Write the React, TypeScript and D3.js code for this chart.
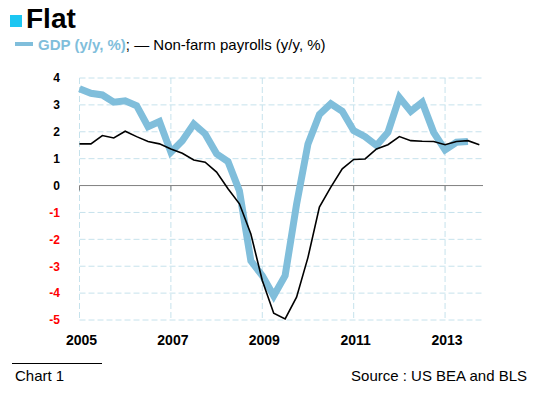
import React, { useRef, useEffect } from 'react';
import * as d3 from 'd3';

// quarterly series, first point = 2005 Q1
const startYear = 2005;
const gdp = [3.6, 3.43, 3.37, 3.1, 3.15, 2.97, 2.19, 2.38, 1.24, 1.67, 2.29, 1.92, 1.18, 0.89, -0.2, -2.8,
  -3.35, -4.1, -3.35, -0.7, 1.55, 2.64, 3.04, 2.76, 2.04, 1.82, 1.49, 1.98, 3.28, 2.76, 3.1, 1.98,
  1.33, 1.61, 1.64];
const payrolls = [1.55, 1.55, 1.86, 1.77, 2.02, 1.82, 1.64, 1.55, 1.36, 1.2, 0.95, 0.87, 0.5, -0.12, -0.68, -1.8,
  -3.53, -4.75, -4.96, -4.15, -2.67, -0.8, -0.06, 0.62, 0.97, 0.99, 1.36, 1.52, 1.82, 1.67, 1.65, 1.64,
  1.52, 1.64, 1.67, 1.52];
const yearTicks = [2005, 2007, 2009, 2011, 2013];
const yTicks = [4, 3, 2, 1, 0, -1, -2, -3, -4, -5];

const FONT = "'Liberation Sans', Arial, sans-serif";
const BLUE = '#80bedb';
const GRID = '#c6e2ec';

const App = () => {
  const svgRef = useRef(null);

  useEffect(() => {
    const svg = d3.select(svgRef.current);
    svg.selectAll('*').remove();

    const x = d3.scaleLinear().domain([2005, 2013.83]).range([79.5, 483]);
    const y = d3.scaleLinear().domain([-5, 4]).range([320, 78]);
    const t = (i) => startYear + i / 4;

    // title
    svg.append('rect').attr('x', 10).attr('y', 15).attr('width', 12).attr('height', 12).attr('fill', '#1cc6f2');
    svg.append('text').attr('x', 26).attr('y', 27.5).attr('font-family', FONT).attr('font-weight', 'bold')
      .attr('font-size', 28).attr('fill', '#000').text('Flat');

    // legend
    svg.append('line').attr('x1', 15).attr('x2', 33).attr('y1', 44).attr('y2', 44)
      .attr('stroke', BLUE).attr('stroke-width', 4);
    const lg = svg.append('text').attr('x', 38).attr('y', 50).attr('font-family', FONT).attr('font-size', 15);
    lg.append('tspan').attr('font-weight', 'bold').attr('fill', BLUE).text('GDP (y/y, %)');
    lg.append('tspan').attr('fill', '#000').text('; \u2014 Non-farm payrolls (y/y, %)');

    // grid
    const grid = svg.append('g');
    yTicks.filter((v) => v !== 0).forEach((v) => {
      grid.append('line').attr('x1', x.range()[0]).attr('x2', x.range()[1])
        .attr('y1', y(v)).attr('y2', y(v))
        .attr('stroke', GRID).attr('stroke-width', 1).attr('stroke-dasharray', '6,3');
    });
    yearTicks.forEach((yr) => {
      grid.append('line').attr('x1', x(yr)).attr('x2', x(yr))
        .attr('y1', y(4)).attr('y2', y(-5))
        .attr('stroke', GRID).attr('stroke-width', 1).attr('stroke-dasharray', '6,3');
    });

    // zero axis with year ticks
    svg.append('line').attr('x1', x.range()[0]).attr('x2', x.range()[1])
      .attr('y1', y(0)).attr('y2', y(0)).attr('stroke', '#808080').attr('stroke-width', 1);
    yearTicks.forEach((yr) => {
      svg.append('line').attr('x1', x(yr)).attr('x2', x(yr)).attr('y1', y(0)).attr('y2', y(0) + 5)
        .attr('stroke', '#808080').attr('stroke-width', 1);
    });

    // y labels
    yTicks.forEach((v) => {
      svg.append('text').attr('x', 60).attr('y', y(v)).attr('dy', '0.36em')
        .attr('text-anchor', 'end').attr('font-family', FONT).attr('font-weight', 'bold')
        .attr('font-size', 12).attr('fill', v < 0 ? '#ff0000' : '#000').text(v);
    });

    // x labels
    yearTicks.forEach((yr) => {
      svg.append('text').attr('x', x(yr) + 2).attr('y', 345).attr('text-anchor', 'middle')
        .attr('font-family', FONT).attr('font-weight', 'bold').attr('font-size', 14)
        .attr('fill', '#000').text(yr);
    });

    const line = d3.line()
      .x((d, i) => x(t(i)))
      .y((d) => y(d));

    svg.append('path').datum(gdp).attr('fill', 'none').attr('stroke', BLUE)
      .attr('stroke-width', 7).attr('stroke-linejoin', 'miter').attr('d', line);
    svg.append('path').datum(payrolls).attr('fill', 'none').attr('stroke', '#000')
      .attr('stroke-width', 1.6).attr('d', line);

    // footer
    svg.append('line').attr('x1', 12).attr('x2', 102).attr('y1', 363.5).attr('y2', 363.5)
      .attr('stroke', '#000').attr('stroke-width', 1);
    svg.append('text').attr('x', 15).attr('y', 381).attr('font-family', FONT).attr('font-size', 15)
      .attr('fill', '#000').text('Chart 1');
    svg.append('text').attr('x', 527).attr('y', 381).attr('text-anchor', 'end').attr('font-family', FONT)
      .attr('font-size', 15).attr('fill', '#000').text('Source : US BEA and BLS');
  }, []);

  return (
    <svg ref={svgRef} width={536} height={396}
      style={{ position: 'absolute', left: 0, top: 0, background: '#fff' }} />
  );
};

export default App;
